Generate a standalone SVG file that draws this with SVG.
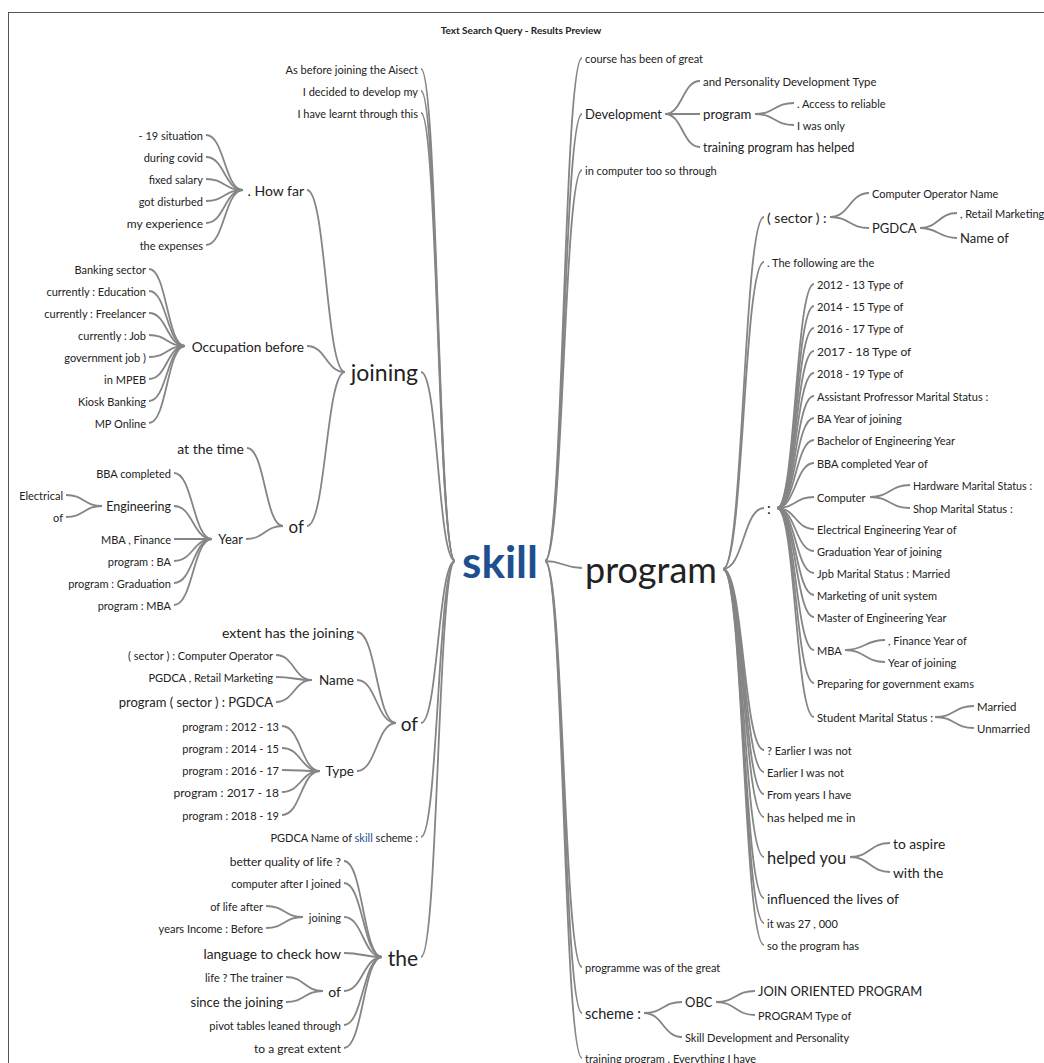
<svg xmlns="http://www.w3.org/2000/svg" width="1044" height="1063" viewBox="0 0 1044 1063">
<style>
text{font-family:Lato,"Open Sans","Liberation Sans",sans-serif;fill:#222;dominant-baseline:central;font-size:11px}
.l{text-anchor:end}
.r{text-anchor:start}
.c path{fill:none;stroke:#858585;stroke-width:1.8}
.b{fill:#1e4f8f}
</style>
<rect width="1044" height="1063" fill="#fff"/>
<rect x="8.5" y="12.5" width="1100" height="1100" fill="none" stroke="#555" stroke-width="1"/>
<text x="521" y="30" style="text-anchor:middle;font-weight:bold;font-size:10px">Text Search Query - Results Preview</text>
<g class="c" id="connectors">
<path d="M545 561C563.5 561 563.5 58 582 58"/>
<path d="M545 561C563.5 561 563.5 114 582 114"/>
<path d="M545 561C563.5 561 563.5 170 582 170"/>
<path d="M545 561C563.5 561 563.5 568 582 568"/>
<path d="M545 561C563.5 561 563.5 967 582 967"/>
<path d="M545 561C563.5 561 563.5 1013 582 1013"/>
<path d="M545 561C563.5 561 563.5 1058 582 1058"/>
<path d="M665 114C682.5 114 682.5 81 700 81"/>
<path d="M665 114C682.5 114 682.5 114 700 114"/>
<path d="M665 114C682.5 114 682.5 147 700 147"/>
<path d="M755 114C774.5 114 774.5 103 794 103"/>
<path d="M755 114C774.5 114 774.5 125 794 125"/>
<path d="M723 569C743.5 569 743.5 217 764 217"/>
<path d="M723 569C743.5 569 743.5 262 764 262"/>
<path d="M723 569C743.5 569 743.5 508 764 508"/>
<path d="M723 569C743.5 569 743.5 750 764 750"/>
<path d="M723 569C743.5 569 743.5 772 764 772"/>
<path d="M723 569C743.5 569 743.5 794 764 794"/>
<path d="M723 569C743.5 569 743.5 817 764 817"/>
<path d="M723 569C743.5 569 743.5 857 764 857"/>
<path d="M723 569C743.5 569 743.5 898 764 898"/>
<path d="M723 569C743.5 569 743.5 923 764 923"/>
<path d="M723 569C743.5 569 743.5 945 764 945"/>
<path d="M830 217C849.5 217 849.5 193 869 193"/>
<path d="M830 217C849.5 217 849.5 228 869 228"/>
<path d="M920 228C938.5 228 938.5 213 957 213"/>
<path d="M920 228C938.5 228 938.5 238 957 238"/>
<path d="M777 508C795.5 508 795.5 284 814 284"/>
<path d="M777 508C795.5 508 795.5 306 814 306"/>
<path d="M777 508C795.5 508 795.5 328 814 328"/>
<path d="M777 508C795.5 508 795.5 351 814 351"/>
<path d="M777 508C795.5 508 795.5 373 814 373"/>
<path d="M777 508C795.5 508 795.5 396 814 396"/>
<path d="M777 508C795.5 508 795.5 418 814 418"/>
<path d="M777 508C795.5 508 795.5 440 814 440"/>
<path d="M777 508C795.5 508 795.5 463 814 463"/>
<path d="M777 508C795.5 508 795.5 497 814 497"/>
<path d="M777 508C795.5 508 795.5 529 814 529"/>
<path d="M777 508C795.5 508 795.5 551 814 551"/>
<path d="M777 508C795.5 508 795.5 573 814 573"/>
<path d="M777 508C795.5 508 795.5 595 814 595"/>
<path d="M777 508C795.5 508 795.5 617 814 617"/>
<path d="M777 508C795.5 508 795.5 650 814 650"/>
<path d="M777 508C795.5 508 795.5 683 814 683"/>
<path d="M777 508C795.5 508 795.5 717 814 717"/>
<path d="M870 497C890 497 890 485 910 485"/>
<path d="M870 497C890 497 890 508 910 508"/>
<path d="M845 650C865 650 865 640 885 640"/>
<path d="M845 650C865 650 865 662 885 662"/>
<path d="M935 717C954.5 717 954.5 706 974 706"/>
<path d="M935 717C954.5 717 954.5 728 974 728"/>
<path d="M850 857C870 857 870 843 890 843"/>
<path d="M850 857C870 857 870 872 890 872"/>
<path d="M644 1013C663 1013 663 1002 682 1002"/>
<path d="M644 1013C663 1013 663 1037 682 1037"/>
<path d="M716 1002C735.5 1002 735.5 991 755 991"/>
<path d="M716 1002C735.5 1002 735.5 1015 755 1015"/>
<path d="M455 561C438 561 438 69 421 69"/>
<path d="M455 561C438 561 438 91 421 91"/>
<path d="M455 561C438 561 438 113 421 113"/>
<path d="M455 561C438 561 438 372 421 372"/>
<path d="M455 561C438 561 438 723 421 723"/>
<path d="M455 561C438 561 438 837 421 837"/>
<path d="M455 561C438 561 438 957 421 957"/>
<path d="M345 372C326 372 326 190 307 190"/>
<path d="M345 372C326 372 326 346 307 346"/>
<path d="M345 372C326 372 326 526 307 526"/>
<path d="M243 190C224.5 190 224.5 135 206 135"/>
<path d="M243 190C224.5 190 224.5 157 206 157"/>
<path d="M243 190C224.5 190 224.5 179 206 179"/>
<path d="M243 190C224.5 190 224.5 201 206 201"/>
<path d="M243 190C224.5 190 224.5 223 206 223"/>
<path d="M243 190C224.5 190 224.5 245 206 245"/>
<path d="M185 346C167 346 167 269 149 269"/>
<path d="M185 346C167 346 167 291 149 291"/>
<path d="M185 346C167 346 167 313 149 313"/>
<path d="M185 346C167 346 167 335 149 335"/>
<path d="M185 346C167 346 167 357 149 357"/>
<path d="M185 346C167 346 167 379 149 379"/>
<path d="M185 346C167 346 167 401 149 401"/>
<path d="M185 346C167 346 167 423 149 423"/>
<path d="M283 526C265 526 265 448 247 448"/>
<path d="M283 526C264.5 526 264.5 539 246 539"/>
<path d="M212 539C193 539 193 473 174 473"/>
<path d="M212 539C193 539 193 506 174 506"/>
<path d="M212 539C193 539 193 539 174 539"/>
<path d="M212 539C193 539 193 561 174 561"/>
<path d="M212 539C193 539 193 583 174 583"/>
<path d="M212 539C193 539 193 605 174 605"/>
<path d="M102 506C84 506 84 495 66 495"/>
<path d="M102 506C84 506 84 517 66 517"/>
<path d="M396 723C376.5 723 376.5 632 357 632"/>
<path d="M396 723C376.5 723 376.5 680 357 680"/>
<path d="M396 723C376.5 723 376.5 771 357 771"/>
<path d="M312 680C294 680 294 655 276 655"/>
<path d="M312 680C294 680 294 677 276 677"/>
<path d="M312 680C294 680 294 702 276 702"/>
<path d="M320 771C301 771 301 726 282 726"/>
<path d="M320 771C301 771 301 748 282 748"/>
<path d="M320 771C301 771 301 770 282 770"/>
<path d="M320 771C301 771 301 792 282 792"/>
<path d="M320 771C301 771 301 815 282 815"/>
<path d="M382 957C363 957 363 861 344 861"/>
<path d="M382 957C363 957 363 883 344 883"/>
<path d="M382 957C363 957 363 917 344 917"/>
<path d="M382 957C363 957 363 953 344 953"/>
<path d="M382 957C363 957 363 991 344 991"/>
<path d="M382 957C363 957 363 1025 344 1025"/>
<path d="M382 957C363 957 363 1048 344 1048"/>
<path d="M303 917C284.5 917 284.5 906 266 906"/>
<path d="M303 917C284.5 917 284.5 928 266 928"/>
<path d="M323 991C304.5 991 304.5 977 286 977"/>
<path d="M323 991C304.5 991 304.5 1002 286 1002"/>
</g>
<g id="n-skill"><text x="500" y="561" class="b" style="text-anchor:middle;font-weight:bold;font-size:44px">skill</text></g>
<g id="n-l1"><text class="l" x="418" y="69">As before joining the Aisect</text></g>
<g id="n-l2"><text class="l" x="418" y="91">I decided to develop my</text></g>
<g id="n-l3"><text class="l" x="418" y="113">I have learnt through this</text></g>
<g id="n-joining"><text class="l" x="418" y="372" style="font-size:23px">joining</text></g>
<g id="n-howfar"><text class="l" x="304" y="190" style="font-size:14px">. How far</text></g>
<g id="n-hf1"><text class="l" x="203" y="135">- 19 situation</text></g>
<g id="n-hf2"><text class="l" x="203" y="157">during covid</text></g>
<g id="n-hf3"><text class="l" x="203" y="179">fixed salary</text></g>
<g id="n-hf4"><text class="l" x="203" y="201">got disturbed</text></g>
<g id="n-hf5"><text class="l" x="203" y="223" style="font-size:12px">my experience</text></g>
<g id="n-hf6"><text class="l" x="203" y="245">the expenses</text></g>
<g id="n-occ"><text class="l" x="304" y="346" style="font-size:13.7px">Occupation before</text></g>
<g id="n-oc1"><text class="l" x="146" y="269">Banking sector</text></g>
<g id="n-oc2"><text class="l" x="146" y="291">currently : Education</text></g>
<g id="n-oc3"><text class="l" x="146" y="313">currently : Freelancer</text></g>
<g id="n-oc4"><text class="l" x="146" y="335">currently : Job</text></g>
<g id="n-oc5"><text class="l" x="146" y="357">government job )</text></g>
<g id="n-oc6"><text class="l" x="146" y="379">in MPEB</text></g>
<g id="n-oc7"><text class="l" x="146" y="401">Kiosk Banking</text></g>
<g id="n-oc8"><text class="l" x="146" y="423">MP Online</text></g>
<g id="n-of1"><text class="l" x="304" y="526" style="font-size:17px">of</text></g>
<g id="n-atthetime"><text class="l" x="244" y="448" style="font-size:14px">at the time</text></g>
<g id="n-year"><text class="l" x="243" y="539" style="font-size:13px">Year</text></g>
<g id="n-y1"><text class="l" x="171" y="473">BBA completed</text></g>
<g id="n-eng"><text class="l" x="171" y="506" style="font-size:12.5px">Engineering</text></g>
<g id="n-e1"><text class="l" x="63" y="495">Electrical</text></g>
<g id="n-e2"><text class="l" x="63" y="517">of</text></g>
<g id="n-y3"><text class="l" x="171" y="539">MBA , Finance</text></g>
<g id="n-y4"><text class="l" x="171" y="561">program : BA</text></g>
<g id="n-y5"><text class="l" x="171" y="583">program : Graduation</text></g>
<g id="n-y6"><text class="l" x="171" y="605">program : MBA</text></g>
<g id="n-of2"><text class="l" x="418" y="723" style="font-size:19px">of</text></g>
<g id="n-extent"><text class="l" x="354" y="632" style="font-size:14px">extent has the joining</text></g>
<g id="n-name"><text class="l" x="354" y="680" style="font-size:13.5px">Name</text></g>
<g id="n-nm1"><text class="l" x="273" y="655">( sector ) : Computer Operator</text></g>
<g id="n-nm2"><text class="l" x="273" y="677">PGDCA , Retail Marketing</text></g>
<g id="n-nm3"><text class="l" x="273" y="702" style="font-size:13px">program ( sector ) : PGDCA</text></g>
<g id="n-type"><text class="l" x="354" y="771" style="font-size:13.5px">Type</text></g>
<g id="n-t1"><text class="l" x="279" y="726">program : 2012 - 13</text></g>
<g id="n-t2"><text class="l" x="279" y="748">program : 2014 - 15</text></g>
<g id="n-t3"><text class="l" x="279" y="770">program : 2016 - 17</text></g>
<g id="n-t4"><text class="l" x="279" y="792" style="font-size:12px">program : 2017 - 18</text></g>
<g id="n-t5"><text class="l" x="279" y="815">program : 2018 - 19</text></g>
<g id="n-pgdcaname"><text class="l" x="418" y="837">PGDCA Name of <tspan class="b">skill</tspan> scheme :</text></g>
<g id="n-the"><text class="l" x="418" y="957" style="font-size:21px">the</text></g>
<g id="n-th1"><text class="l" x="341" y="861" style="font-size:12px">better quality of life ?</text></g>
<g id="n-th2"><text class="l" x="341" y="883">computer after I joined</text></g>
<g id="n-thjoin"><text class="l" x="341" y="917">joining</text></g>
<g id="n-tj1"><text class="l" x="263" y="906">of life after</text></g>
<g id="n-tj2"><text class="l" x="263" y="928">years Income : Before</text></g>
<g id="n-th4"><text class="l" x="341" y="953" style="font-size:13.7px">language to check how</text></g>
<g id="n-thof"><text class="l" x="341" y="991" style="font-size:14px">of</text></g>
<g id="n-to1"><text class="l" x="283" y="977">life ? The trainer</text></g>
<g id="n-to2"><text class="l" x="283" y="1002" style="font-size:13px">since the joining</text></g>
<g id="n-th6"><text class="l" x="341" y="1025">pivot tables leaned through</text></g>
<g id="n-th7"><text class="l" x="341" y="1048" style="font-size:12px">to a great extent</text></g>
<g id="n-r1"><text class="r" x="585" y="58">course has been of great</text></g>
<g id="n-dev"><text class="r" x="585" y="114" style="font-size:13px">Development</text></g>
<g id="n-d1"><text class="r" x="703" y="81" style="font-size:11.4px">and Personality Development Type</text></g>
<g id="n-dprog"><text class="r" x="703" y="114" style="font-size:13.2px">program</text></g>
<g id="n-dp1"><text class="r" x="797" y="103">. Access to reliable</text></g>
<g id="n-dp2"><text class="r" x="797" y="125">I was only</text></g>
<g id="n-d3"><text class="r" x="703" y="147" style="font-size:12.4px">training program has helped</text></g>
<g id="n-r3"><text class="r" x="585" y="170">in computer too so through</text></g>
<g id="n-program"><text class="r" x="585" y="569" style="font-size:36px">program</text></g>
<g id="n-sector"><text class="r" x="767" y="217" style="font-size:14px">( sector ) :</text></g>
<g id="n-s1"><text class="r" x="872" y="193">Computer Operator Name</text></g>
<g id="n-pgdca"><text class="r" x="872" y="228" style="font-size:13px">PGDCA</text></g>
<g id="n-pg1"><text class="r" x="960" y="213">, Retail Marketing</text></g>
<g id="n-pg2"><text class="r" x="960" y="238" style="font-size:13px">Name of</text></g>
<g id="n-following"><text class="r" x="767" y="262">. The following are the</text></g>
<g id="n-colon"><text class="r" x="767" y="508" style="font-size:15px">:</text></g>
<g id="n-c1"><text class="r" x="817" y="284">2012 - 13 Type of</text></g>
<g id="n-c2"><text class="r" x="817" y="306">2014 - 15 Type of</text></g>
<g id="n-c3"><text class="r" x="817" y="328">2016 - 17 Type of</text></g>
<g id="n-c4"><text class="r" x="817" y="351" style="font-size:12px">2017 - 18 Type of</text></g>
<g id="n-c5"><text class="r" x="817" y="373">2018 - 19 Type of</text></g>
<g id="n-c6"><text class="r" x="817" y="396">Assistant Profressor Marital Status :</text></g>
<g id="n-c7"><text class="r" x="817" y="418">BA Year of joining</text></g>
<g id="n-c8"><text class="r" x="817" y="440">Bachelor of Engineering Year</text></g>
<g id="n-c9"><text class="r" x="817" y="463">BBA completed Year of</text></g>
<g id="n-computer"><text class="r" x="817" y="497">Computer</text></g>
<g id="n-cp1"><text class="r" x="913" y="485" style="font-size:10.7px">Hardware Marital Status :</text></g>
<g id="n-cp2"><text class="r" x="913" y="508">Shop Marital Status :</text></g>
<g id="n-c11"><text class="r" x="817" y="529">Electrical Engineering Year of</text></g>
<g id="n-c12"><text class="r" x="817" y="551">Graduation Year of joining</text></g>
<g id="n-c13"><text class="r" x="817" y="573">Jpb Marital Status : Married</text></g>
<g id="n-c14"><text class="r" x="817" y="595">Marketing of unit system</text></g>
<g id="n-c15"><text class="r" x="817" y="617">Master of Engineering Year</text></g>
<g id="n-mba"><text class="r" x="817" y="650">MBA</text></g>
<g id="n-mb1"><text class="r" x="888" y="640">, Finance Year of</text></g>
<g id="n-mb2"><text class="r" x="888" y="662">Year of joining</text></g>
<g id="n-c17"><text class="r" x="817" y="683">Preparing for government exams</text></g>
<g id="n-student"><text class="r" x="817" y="717" style="font-size:11.3px">Student Marital Status :</text></g>
<g id="n-st1"><text class="r" x="977" y="706" style="font-size:11.4px">Married</text></g>
<g id="n-st2"><text class="r" x="977" y="728" style="font-size:11.4px">Unmarried</text></g>
<g id="n-p4"><text class="r" x="767" y="750">? Earlier I was not</text></g>
<g id="n-p5"><text class="r" x="767" y="772">Earlier I was not</text></g>
<g id="n-p6"><text class="r" x="767" y="794">From years I have</text></g>
<g id="n-p7"><text class="r" x="767" y="817" style="font-size:12px">has helped me in</text></g>
<g id="n-helped"><text class="r" x="767" y="857" style="font-size:16.4px">helped you</text></g>
<g id="n-h1"><text class="r" x="893" y="843" style="font-size:13.8px">to aspire</text></g>
<g id="n-h2"><text class="r" x="893" y="872" style="font-size:13.8px">with the</text></g>
<g id="n-p9"><text class="r" x="767" y="898" style="font-size:13.7px">influenced the lives of</text></g>
<g id="n-p10"><text class="r" x="767" y="923">it was 27 , 000</text></g>
<g id="n-p11"><text class="r" x="767" y="945">so the program has</text></g>
<g id="n-r5"><text class="r" x="585" y="967">programme was of the great</text></g>
<g id="n-scheme"><text class="r" x="585" y="1013" style="font-size:14.5px">scheme :</text></g>
<g id="n-obc"><text class="r" x="685" y="1002" style="font-size:13px">OBC</text></g>
<g id="n-ob1"><text class="r" x="758" y="991" style="font-size:12.9px">JOIN ORIENTED PROGRAM</text></g>
<g id="n-ob2"><text class="r" x="758" y="1015">PROGRAM Type of</text></g>
<g id="n-sc2"><text class="r" x="685" y="1037">Skill Development and Personality</text></g>
<g id="n-r7"><text class="r" x="585" y="1058">training program . Everything I have</text></g>
</svg>
